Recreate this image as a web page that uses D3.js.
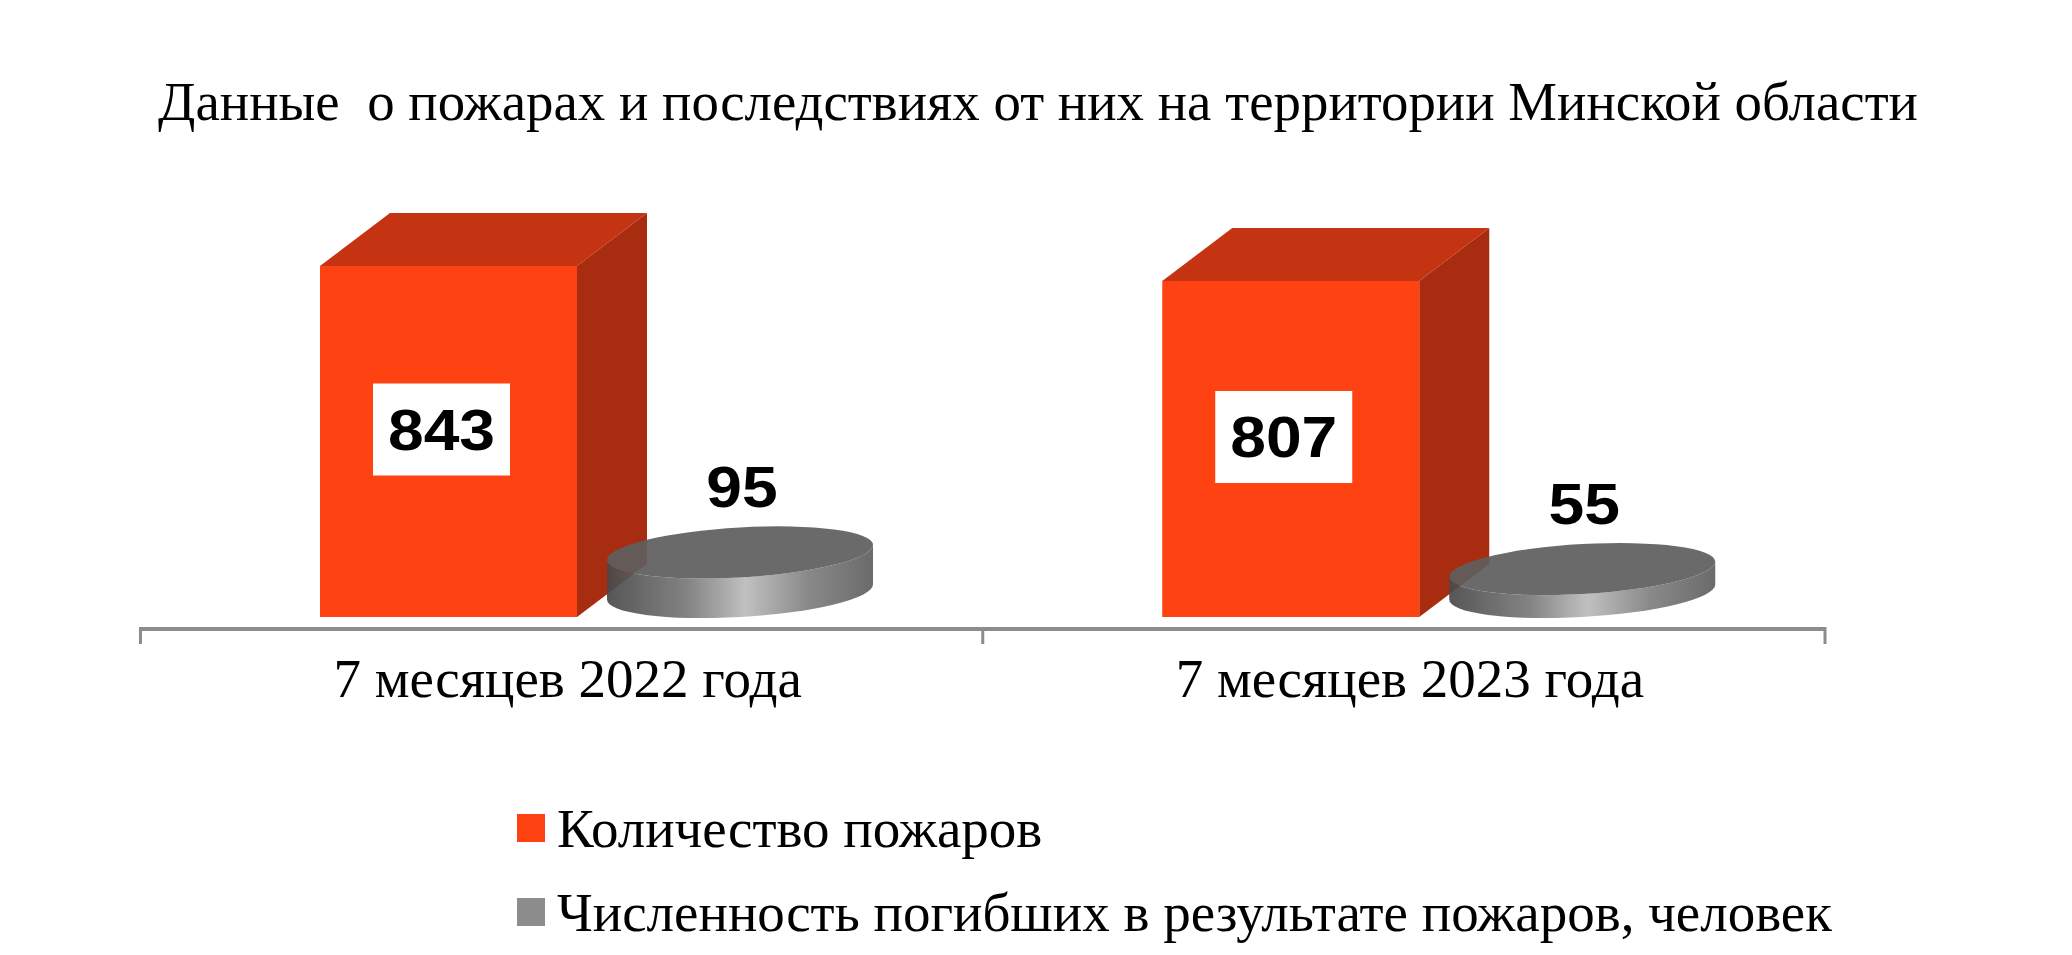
<!DOCTYPE html>
<html>
<head>
<meta charset="utf-8">
<script src="https://cdn.jsdelivr.net/npm/d3@7"></script>
<style>
  body { margin: 0; background: #fff; }
  svg { display: block; }
</style>
</head>
<body>
<svg id="chart" width="2072" height="955"></svg>
<script>
var width = 2072;
var height = 955;

// data
var titleText = "Данные  о пожарах и последствиях от них на территории Минской области";
var categories = ["7 месяцев 2022 года", "7 месяцев 2023 года"];
var fires = [843, 807];
var deaths = [95, 55];
var seriesNames = ["Количество пожаров", "Численность погибших в результате пожаров, человек"];
var seriesColors = ["#ff4212", "#8c8c8c"];

var serif = "'Liberation Serif', 'Times New Roman', serif";
var sans = "'Liberation Sans', Arial, sans-serif";

var svg = d3.select("#chart");

var floorY = 617;
var axisY = 629;

var x = d3.scaleBand().domain(categories).range([140.5, 1825]);
var h = d3.scaleLinear().domain([0, 843]).range([0, 351]);

// gradient for the cylinder side
var defs = svg.append("defs");
var grad = defs.append("linearGradient").attr("id", "cylSide")
  .attr("x1", "0%").attr("x2", "100%").attr("y1", "0%").attr("y2", "0%");
grad.append("stop").attr("offset", "0%").attr("stop-color", "#4a4a4a");
grad.append("stop").attr("offset", "30%").attr("stop-color", "#7a7a7a");
grad.append("stop").attr("offset", "52%").attr("stop-color", "#bcbcbc");
grad.append("stop").attr("offset", "76%").attr("stop-color", "#808080");
grad.append("stop").attr("offset", "100%").attr("stop-color", "#606060");

// title
svg.append("text")
  .attr("x", 158).attr("y", 120)
  .attr("textLength", 1760).attr("lengthAdjust", "spacingAndGlyphs")
  .style("white-space", "pre")
  .style("font-family", serif).style("font-size", "54px")
  .attr("fill", "#000")
  .text(titleText);

// axis line + ticks at band edges
var r = x.range();
svg.append("line")
  .attr("x1", r[0]).attr("x2", r[1])
  .attr("y1", axisY).attr("y2", axisY)
  .attr("stroke", "#8c8c8c").attr("stroke-width", 4);
var edges = categories.map(function(c) { return x(c); }).concat([r[1]]);
svg.selectAll("line.tick").data(edges).enter().append("line")
  .attr("class", "tick")
  .attr("x1", function(d) { return d; }).attr("x2", function(d) { return d; })
  .attr("y1", axisY - 2).attr("y2", 644)
  .attr("stroke", "#8c8c8c").attr("stroke-width", 3);

// category labels
svg.selectAll("text.cat").data(categories).enter().append("text")
  .attr("class", "cat")
  .attr("x", function(d) { return x(d) + x.bandwidth() / 2 + 6; })
  .attr("y", 697)
  .attr("text-anchor", "middle")
  .style("font-family", serif).style("font-size", "55px")
  .text(function(d) { return d; });

function valueLabel(sel, d, cx, y) {
  var s = String(d);
  sel.append("text")
    .attr("x", cx - s.length * 17.85).attr("y", y)
    .attr("textLength", s.length * 35.7).attr("lengthAdjust", "spacingAndGlyphs")
    .style("font-family", sans).style("font-size", "57px").style("font-weight", "bold")
    .text(s);
}

// 3D boxes for fires
var bw = 257, dx = 70, dy = -53;
var boxes = svg.selectAll("g.box").data(fires).enter().append("g").attr("class", "box");

boxes.each(function(d, i) {
  var g = d3.select(this);
  var x0 = x(categories[i]) + 179.5;
  var top = floorY - h(d);
  // top face
  g.append("path")
    .attr("d", "M" + x0 + "," + top + "L" + (x0 + dx) + "," + (top + dy) +
      "L" + (x0 + bw + dx) + "," + (top + dy) + "L" + (x0 + bw) + "," + top + "Z")
    .attr("fill", "#c43412");
  // side face
  g.append("path")
    .attr("d", "M" + (x0 + bw) + "," + top + "L" + (x0 + bw + dx) + "," + (top + dy) +
      "L" + (x0 + bw + dx) + "," + (floorY + dy) + "L" + (x0 + bw) + "," + floorY + "Z")
    .attr("fill", "#a82c10");
  // front face
  g.append("rect")
    .attr("x", x0).attr("y", top)
    .attr("width", bw).attr("height", h(d))
    .attr("fill", seriesColors[0]);
  // value label in white box
  var cx = x0 + bw / 2 - 7;
  var cy = top + h(d) / 2 - 12;
  g.append("rect")
    .attr("x", cx - 68.5).attr("y", cy - 46)
    .attr("width", 137).attr("height", 92)
    .attr("fill", "#fff");
  valueLabel(g, d, cx, cy + 20);
});

// cylinders for deaths
var rx = 133, ry = 25;
var cyls = svg.selectAll("g.cyl").data(deaths).enter().append("g").attr("class", "cyl");

cyls.each(function(d, i) {
  var cx = x(categories[i]) + 599.5;
  var bot = floorY - ry;
  var topC = bot - h(d);
  var g = d3.select(this)
    .attr("opacity", 0.93)
    .attr("transform", "translate(" + cx + "," + bot + ") skewY(-3.2) translate(" + (-cx) + "," + (-bot) + ")");
  g.append("path")
    .attr("d", "M" + (cx - rx) + "," + topC + "L" + (cx - rx) + "," + bot +
      "A" + rx + "," + ry + " 0 0 0 " + (cx + rx) + "," + bot +
      "L" + (cx + rx) + "," + topC +
      "A" + rx + "," + ry + " 0 0 1 " + (cx - rx) + "," + topC + "Z")
    .attr("fill", "url(#cylSide)");
  g.append("ellipse")
    .attr("cx", cx).attr("cy", topC)
    .attr("rx", rx).attr("ry", ry)
    .attr("fill", "#5f5f5f");
  valueLabel(svg, d, cx + 2, topC - ry - 20);
});

// legend
var leg = svg.selectAll("g.leg").data(seriesNames).enter().append("g").attr("class", "leg");
leg.append("rect")
  .attr("x", 517).attr("y", function(d, i) { return 814 + i * 84; })
  .attr("width", 28).attr("height", 28)
  .attr("fill", function(d, i) { return seriesColors[i]; });
leg.append("text")
  .attr("x", 557).attr("y", function(d, i) { return 847 + i * 84; })
  .style("font-family", serif).style("font-size", "55px")
  .text(function(d) { return d; });
</script>
</body>
</html>
